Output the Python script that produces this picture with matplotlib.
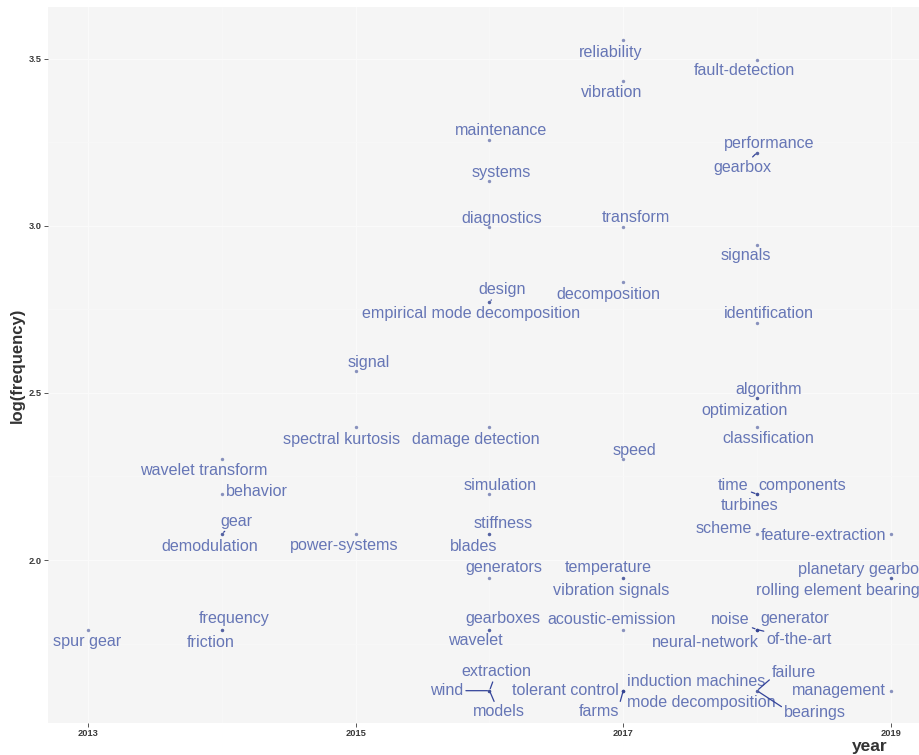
import matplotlib
matplotlib.use("Agg")
import matplotlib.pyplot as plt
from matplotlib.ticker import MultipleLocator

# ---------------- data ----------------
words = [
    "spur gear",
    "wavelet transform", "behavior", "gear", "demodulation", "frequency", "friction",
    "signal", "spectral kurtosis", "power-systems",
    "maintenance", "systems", "diagnostics", "design", "empirical mode decomposition",
    "damage detection", "simulation", "stiffness", "blades", "generators",
    "gearboxes", "wavelet", "extraction", "wind", "models",
    "reliability", "vibration", "transform", "decomposition", "speed",
    "temperature", "vibration signals", "acoustic-emission", "tolerant control",
    "farms", "induction machines", "mode decomposition",
    "fault-detection", "performance", "gearbox", "signals", "identification",
    "algorithm", "optimization", "classification", "time", "components", "turbines",
    "scheme", "noise", "generator", "neural-network", "of-the-art", "failure", "bearings",
    "feature-extraction", "planetary gearbox", "rolling element bearings", "management",
]
years = [
    2013,
    2014, 2014, 2014, 2014, 2014, 2014,
    2015, 2015, 2015,
    2016, 2016, 2016, 2016, 2016,
    2016, 2016, 2016, 2016, 2016,
    2016, 2016, 2016, 2016, 2016,
    2017, 2017, 2017, 2017, 2017,
    2017, 2017, 2017, 2017,
    2017, 2017, 2017,
    2018, 2018, 2018, 2018, 2018,
    2018, 2018, 2018, 2018, 2018, 2018,
    2018, 2018, 2018, 2018, 2018, 2018, 2018,
    2019, 2019, 2019, 2019,
]
log_freq = [
    1.792,
    2.303, 2.197, 2.079, 2.079, 1.792, 1.792,
    2.565, 2.398, 2.079,
    3.258, 3.135, 2.996, 2.773, 2.773,
    2.398, 2.197, 2.079, 2.079, 1.946,
    1.792, 1.792, 1.609, 1.609, 1.609,
    3.555, 3.434, 2.996, 2.833, 2.303,
    1.946, 1.946, 1.792, 1.609,
    1.609, 1.609, 1.609,
    3.497, 3.219, 3.219, 2.944, 2.708,
    2.485, 2.485, 2.398, 2.197, 2.197, 2.197,
    2.079, 1.792, 1.792, 1.792, 1.792, 1.609, 1.609,
    2.079, 1.946, 1.946, 1.609,
]

x_ticks = [2013, 2015, 2017, 2019]
y_ticks = [2.0, 2.5, 3.0, 3.5]

# ---------------- layout (label offsets in pixels, +x right, +y down) ----------------
label_dx = [
    -1.5,
    -18, 35, 14.7, -12, 11.7, -11.6,
    13, -14, -12,
    12, 12, 12, 13, -18,
    -14, 11, 14, -16, 14,
    13, -14, 7, -43, 9,
    -12.5, -11.5, 12.5, -15, 11.5,
    -15, -12.5, -12, -58,
    -24, 72.5, 78.5,
    -12.7, 12.3, -14.7, -11, 12.3,
    11.3, -12.7, 11.3, -23.7, 45.3, -7.7,
    -32.7, -26.7, 38.3, -51.7, 42.3, 37.3, 58.3,
    -67, -28, -49, -51.7,
]
label_dy = [
    12,
    11.3, -3, -12.6, 12.7, -10.7, 12.6,
    -8.3, 13, 12,
    -9.3, -8.3, -8.4, -12, 12.3,
    13, -8.7, -10.6, 12.7, -10.3,
    -10.7, 11.3, -19, 0, 21,
    11.7, 11.6, -10, 13, -8.4,
    -10.3, 12, -10, 0,
    21, -8.7, 11.6,
    11, -9, 14.6, 11.4, -10,
    -8.4, 13, 11.7, -8.7, -8.7, 11.3,
    -5, -10, -10.7, 12.6, 10.3, -17.7, 22.3,
    1.4, -8.3, 12, 0,
]
segment_words = {"gear", "design", "extraction", "wind", "models", "farms",
                 "gearbox", "time", "noise", "of-the-art", "failure", "bearings"}
segment_relpos = {"farms": (1.0, 1.0), "failure": (0.0, 0.2), "bearings": (0.0, 0.8)}

# ---------------- figure ----------------
W, H = 920, 755
fig = plt.figure(figsize=(W / 100, H / 100), dpi=100)
ax = fig.add_axes([48.3 / W, (H - 722.7) / H, (W - 48.3) / W, (722.7 - 7.3) / H])
ax.set_facecolor("#F5F5F5")
for s in ax.spines.values():
    s.set_visible(False)

ax.set_xlim(2012.701, 2019.219)
ax.set_ylim(1.5132, 3.6538)
ax.set_xticks(x_ticks)
ax.set_yticks(y_ticks)
ax.set_yticklabels([f"{v:.1f}" for v in y_ticks])
ax.xaxis.set_minor_locator(MultipleLocator(1))
ax.yaxis.set_minor_locator(MultipleLocator(0.25))
ax.grid(which="major", color="#FAFAFA", lw=0.8)
ax.grid(which="minor", color="#F8F8F8", lw=0.5)
ax.set_axisbelow(True)
ax.tick_params(which="major", length=3, width=0.7, color="#555555",
               labelsize=6.7, labelcolor="#3A3A3A", pad=1.5)
ax.tick_params(which="minor", length=0)
for lab in ax.get_xticklabels() + ax.get_yticklabels():
    lab.set_fontweight("bold")
    lab.set_family("Liberation Sans")

point_color = "#2E3E8E"
text_color = "#6676B6"
seg_color = "#34449A"

ax.scatter(years, log_freq, s=6, color=point_color, alpha=0.55, lw=0, zorder=3)

for w, x, y, dx, dy in zip(words, years, log_freq, label_dx, label_dy):
    kw = {}
    if w in segment_words:
        kw["arrowprops"] = dict(arrowstyle="-", color=seg_color, lw=0.9,
                                shrinkA=0, shrinkB=1.5,
                                relpos=segment_relpos.get(w, (0.5, 0.5)))
    ax.annotate(w, xy=(x, y), xytext=(dx, -dy), textcoords="offset pixels",
                ha="center", va="center", fontsize=11.6, color=text_color,
                family="Liberation Sans", annotation_clip=False, zorder=4, **kw)

fig.text(17.5 / W, 1 - 365 / H, "log(frequency)", rotation=90, ha="center",
         va="center", fontsize=12, fontweight="bold", color="#333333",
         family="Liberation Sans")
fig.text(888 / W, 1 - 746 / H, "year", ha="right", va="center", fontsize=12.5,
         fontweight="bold", color="#333333", family="Liberation Sans")

fig.savefig("out.png", dpi=100)
